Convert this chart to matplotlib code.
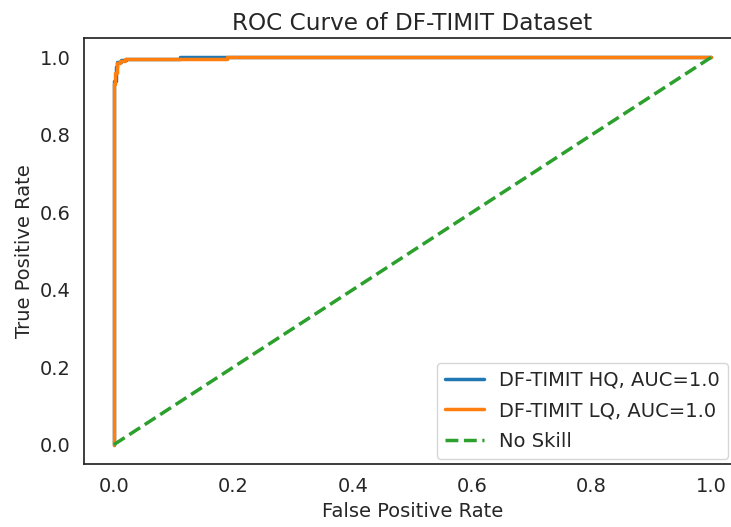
import matplotlib
matplotlib.use("Agg")
import matplotlib.pyplot as plt
import seaborn as sns

sns.set_theme(style="white", font_scale=1.3)
plt.rcParams['font.family'] = ['DejaVu Sans']

# ROC points
hq_fpr = [0.0, 0.0, 0.003, 0.003, 0.006, 0.006, 0.012, 0.012, 0.02, 0.02, 0.11, 0.11, 1.0]
hq_tpr = [0.0, 0.94, 0.94, 0.975, 0.975, 0.988, 0.988, 0.993, 0.993, 0.996, 0.996, 1.0, 1.0]
lq_fpr = [0.0, 0.0, 0.002, 0.002, 0.005, 0.005, 0.01, 0.01, 0.018, 0.018, 0.19, 0.19, 1.0]
lq_tpr = [0.0, 0.93, 0.93, 0.96, 0.96, 0.985, 0.985, 0.99, 0.99, 0.996, 0.996, 1.0, 1.0]
noskill = [0.0, 1.0]

fig = plt.figure(figsize=(7.31, 5.27), dpi=100)
ax = fig.add_axes([84 / 731, 63 / 527, 657 / 731, 426 / 527])

ax.plot(hq_fpr, hq_tpr, color='tab:blue', lw=2.5, label='DF-TIMIT HQ, AUC=1.0')
ax.plot(lq_fpr, lq_tpr, color='tab:orange', lw=2.5, label='DF-TIMIT LQ, AUC=1.0')
ax.plot(noskill, noskill, color='tab:green', lw=2.5, ls='--', label='No Skill')

ax.set_xlim(-0.05, 1.05)
ax.set_ylim(-0.05, 1.05)
ax.set_xticks([0, 0.2, 0.4, 0.6, 0.8, 1.0])
ax.set_yticks([0, 0.2, 0.4, 0.6, 0.8, 1.0])
ax.tick_params(labelsize=14)
ax.set_xlabel('False Positive Rate', fontsize=14)
ax.set_ylabel('True Positive Rate', fontsize=14)
ax.set_title('ROC Curve of DF-TIMIT Dataset', fontsize=16.7)
ax.legend(loc='lower right', bbox_to_anchor=(0.995, -0.01), fontsize=14, labelspacing=0.6)

fig.savefig('out.png', dpi=100)
